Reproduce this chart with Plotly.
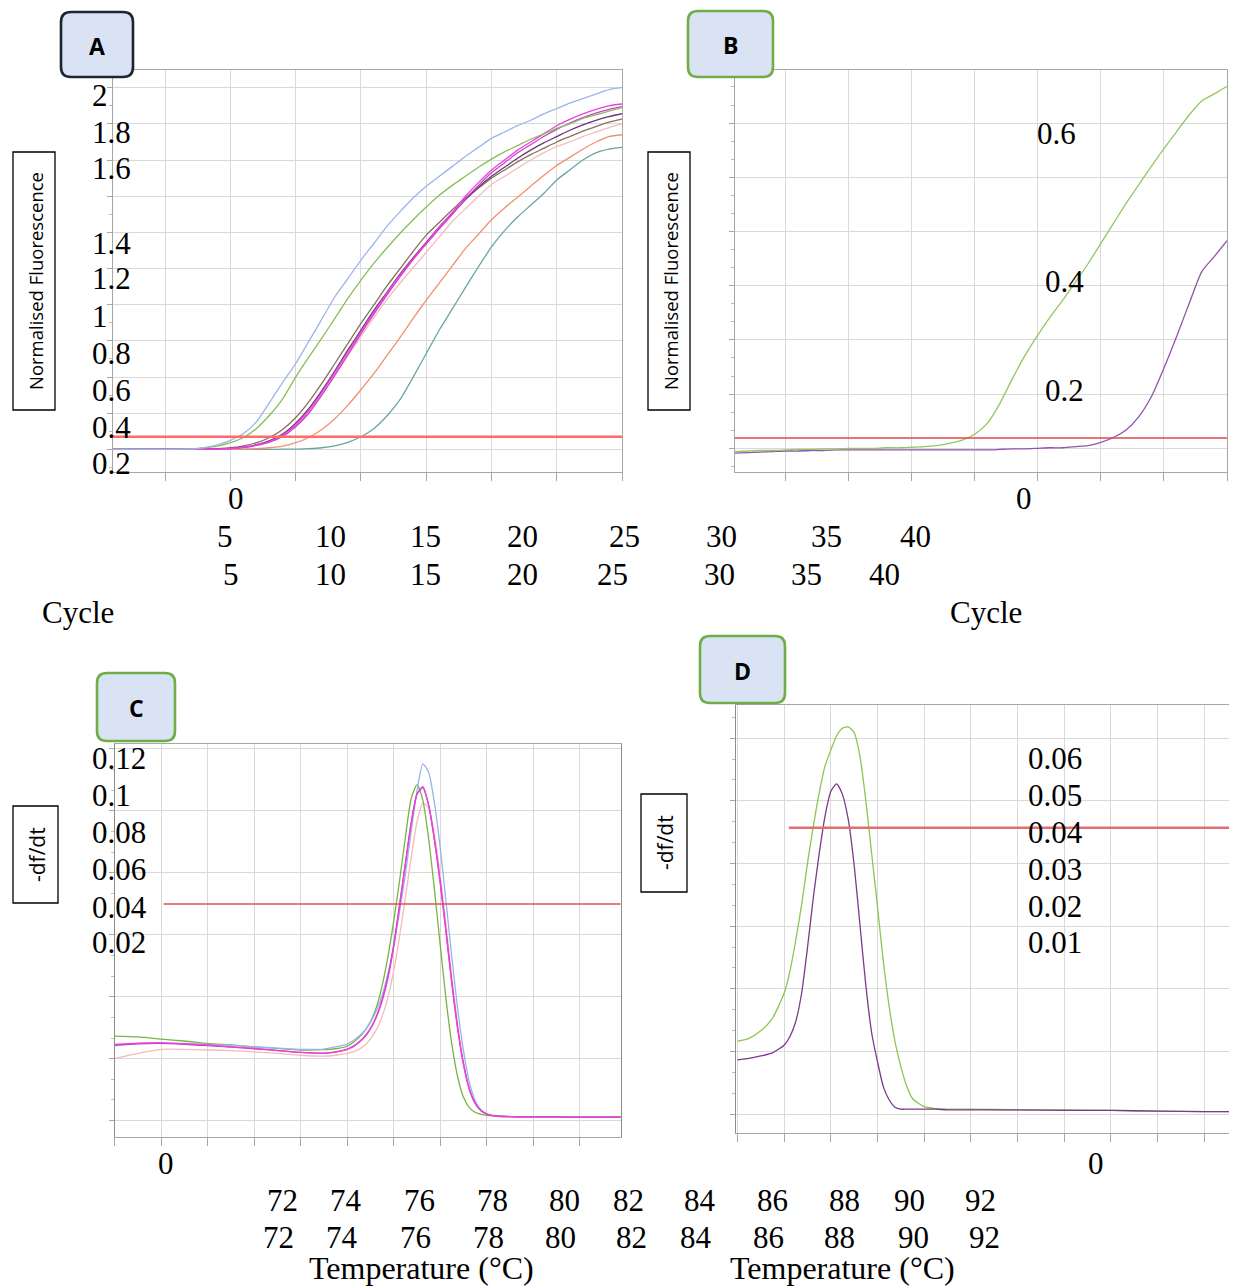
import plotly.graph_objects as go

# ---------------- DATA ----------------
cycles = list(range(1, 41))

# Panel A : amplification curves (normalised fluorescence per cycle)
a_blue = [0, 0, 0, 0, 0, 0, 0.003, 0.01, 0.025, 0.05, 0.088, 0.153, 0.26, 0.37, 0.475, 0.597, 0.72, 0.844, 0.945, 1.047,
          1.14, 1.235, 1.315, 1.39, 1.455, 1.51, 1.565, 1.62, 1.67, 1.72, 1.755, 1.79, 1.82, 1.855, 1.885, 1.915, 1.94, 1.965, 1.99, 2.0]
a_green = [0, 0, 0, 0, 0, 0, 0.002, 0.008, 0.018, 0.037, 0.066, 0.116, 0.19, 0.28, 0.40, 0.51, 0.615, 0.725, 0.835, 0.936,
           1.03, 1.115, 1.195, 1.27, 1.34, 1.405, 1.46, 1.51, 1.56, 1.605, 1.645, 1.68, 1.715, 1.745, 1.775, 1.80, 1.83, 1.85, 1.87, 1.89]
a_brown = [0, 0, 0, 0, 0, 0, 0, 0.002, 0.004, 0.009, 0.02, 0.037, 0.066, 0.11, 0.176, 0.263, 0.365, 0.475, 0.586, 0.697,
           0.80, 0.905, 1.0, 1.095, 1.185, 1.255, 1.325, 1.39, 1.445, 1.50, 1.545, 1.59, 1.63, 1.665, 1.70, 1.73, 1.76, 1.785, 1.81, 1.827]
a_purple = [0, 0, 0, 0, 0, 0, 0, 0, 0.003, 0.006, 0.012, 0.026, 0.048, 0.085, 0.145, 0.225, 0.325, 0.435, 0.55, 0.66,
            0.77, 0.87, 0.97, 1.06, 1.145, 1.23, 1.305, 1.38, 1.45, 1.51, 1.56, 1.61, 1.655, 1.695, 1.73, 1.765, 1.795, 1.82, 1.84, 1.856]
a_magenta = [0, 0, 0, 0, 0, 0, 0, 0, 0.002, 0.005, 0.012, 0.025, 0.045, 0.08, 0.135, 0.215, 0.315, 0.425, 0.54, 0.65,
             0.76, 0.865, 0.965, 1.055, 1.14, 1.23, 1.31, 1.40, 1.475, 1.545, 1.60, 1.655, 1.70, 1.745, 1.79, 1.825, 1.855, 1.88, 1.90, 1.91]
a_orchid = [0, 0, 0, 0, 0, 0, 0, 0, 0.002, 0.005, 0.01, 0.022, 0.04, 0.072, 0.125, 0.20, 0.30, 0.41, 0.525, 0.64,
            0.75, 0.855, 0.955, 1.05, 1.135, 1.22, 1.30, 1.385, 1.46, 1.53, 1.585, 1.64, 1.685, 1.73, 1.77, 1.805, 1.835, 1.86, 1.88, 1.895]
a_pink = [0, 0, 0, 0, 0, 0, 0, 0, 0.002, 0.005, 0.012, 0.024, 0.044, 0.078, 0.13, 0.21, 0.305, 0.41, 0.52, 0.625,
          0.73, 0.83, 0.92, 1.005, 1.09, 1.175, 1.26, 1.33, 1.40, 1.465, 1.51, 1.555, 1.60, 1.64, 1.675, 1.70, 1.73, 1.755, 1.78, 1.80]
a_orange = [0, 0, 0, 0, 0, 0, 0, 0, 0, 0, 0.002, 0.004, 0.009, 0.018, 0.037, 0.066, 0.11, 0.17, 0.245, 0.33,
            0.42, 0.52, 0.62, 0.725, 0.825, 0.92, 1.015, 1.11, 1.19, 1.27, 1.335, 1.395, 1.455, 1.515, 1.57, 1.615, 1.66, 1.70, 1.73, 1.74]
a_teal = [0, 0, 0, 0, 0, 0, 0, 0, 0, 0, 0, 0, 0, 0.001, 0.002, 0.004, 0.009, 0.02, 0.039, 0.07,
          0.116, 0.186, 0.276, 0.40, 0.53, 0.66, 0.777, 0.895, 1.01, 1.12, 1.21, 1.285, 1.35, 1.415, 1.49, 1.545, 1.60, 1.64, 1.66, 1.67]
a_threshold = 0.07

# Panel B : amplification curves
b_green = [-0.006, -0.005, -0.004, -0.004, -0.003, -0.002, -0.002, -0.001, -0.001, 0.0, 0.0, 0.0, 0.001, 0.001, 0.002, 0.003,
           0.005, 0.009, 0.015, 0.026, 0.046, 0.083, 0.129, 0.172, 0.209, 0.243, 0.274, 0.307, 0.341, 0.378,
           0.415, 0.452, 0.486, 0.52, 0.553, 0.584, 0.615, 0.641, 0.654, 0.668]
b_purple = [-0.009, -0.008, -0.007, -0.006, -0.005, -0.005, -0.004, -0.004, -0.003, -0.003, -0.003, -0.003, -0.003, -0.003,
            -0.003, -0.003, -0.003, -0.003, -0.003, -0.003, -0.003, -0.002, -0.001, -0.001, 0.0, 0.001, 0.001, 0.003, 0.005,
            0.011, 0.02, 0.034, 0.058, 0.095, 0.148, 0.206, 0.267, 0.326, 0.354, 0.383]
b_threshold = 0.019

# Panel C : melt curves (-df/dt vs temperature)
c_temps = [70, 71, 72, 73, 74, 75, 76, 77, 78, 79, 79.5,
           80, 80.25, 80.5, 80.75, 81, 81.25, 81.5, 81.75, 82, 82.25, 82.5, 82.75, 83, 83.25, 83.5, 83.75,
           84, 84.25, 84.5, 84.75, 85, 85.25, 85.5, 85.75, 86, 86.25, 86.5,
           87, 88, 89, 90, 91, 92]
c_blue = [0.0241, 0.0249, 0.0251, 0.0249, 0.0246, 0.0243, 0.0238, 0.0234, 0.0230, 0.0231, 0.0238,
          0.0247, 0.0258, 0.0272, 0.029, 0.0318, 0.0355, 0.0405, 0.0475, 0.0565, 0.0675, 0.0795, 0.0935, 0.1065, 0.1152, 0.1125, 0.1025,
          0.088, 0.0705, 0.0525, 0.036, 0.0225, 0.0125, 0.0065, 0.0035, 0.0022, 0.0017, 0.0015,
          0.0013, 0.0012, 0.0012, 0.0011, 0.0011, 0.0011]
c_green = [0.0273, 0.027, 0.0263, 0.0257, 0.0249, 0.0244, 0.0238, 0.0233, 0.0228, 0.0229, 0.0232,
           0.024, 0.0252, 0.0268, 0.029, 0.032, 0.0365, 0.0435, 0.053, 0.0645, 0.0775, 0.0915, 0.104, 0.1085, 0.1035, 0.091, 0.0745,
           0.0565, 0.039, 0.0245, 0.014, 0.0075, 0.0042, 0.0027, 0.002, 0.0017, 0.0015, 0.0014,
           0.0013, 0.0012, 0.0012, 0.0011, 0.0011, 0.0011]
c_magenta = [0.0246, 0.025, 0.0251, 0.0248, 0.0244, 0.0238, 0.0233, 0.0227, 0.022, 0.0217, 0.0221,
             0.023, 0.0238, 0.0252, 0.027, 0.0296, 0.0333, 0.0386, 0.046, 0.0562, 0.0692, 0.0828, 0.0958, 0.1053, 0.1078, 0.102, 0.0905,
             0.0765, 0.0605, 0.044, 0.0295, 0.018, 0.01, 0.0055, 0.0032, 0.0021, 0.0016, 0.0014,
             0.0013, 0.0012, 0.0012, 0.0011, 0.0011, 0.0011]
c_purple = [0.0244, 0.0248, 0.0249, 0.0246, 0.0242, 0.0237, 0.0232, 0.0226, 0.022, 0.0218, 0.0222,
            0.0231, 0.024, 0.0254, 0.0272, 0.0298, 0.0336, 0.039, 0.0465, 0.0568, 0.0698, 0.0832, 0.0962, 0.1055, 0.1075, 0.1018, 0.0908,
            0.077, 0.061, 0.0445, 0.0298, 0.0182, 0.0102, 0.0056, 0.0032, 0.0021, 0.0016, 0.0014,
            0.0013, 0.0012, 0.0012, 0.0011, 0.0011, 0.0011]
c_pink = [0.0201, 0.0217, 0.023, 0.023, 0.0228, 0.0226, 0.0222, 0.0217, 0.0211, 0.0208, 0.0211,
          0.0217, 0.0222, 0.023, 0.0243, 0.0264, 0.0293, 0.0336, 0.0398, 0.0485, 0.0595, 0.072, 0.085, 0.0965, 0.1025, 0.101, 0.092,
          0.079, 0.063, 0.046, 0.031, 0.019, 0.0105, 0.0058, 0.0033, 0.0022, 0.0016, 0.0014,
          0.0013, 0.0012, 0.0012, 0.0011, 0.0011, 0.0011]
c_threshold = 0.0699
c_threshold_start = 72.1

# Panel D : melt curves
d_temps = [70, 70.5, 71, 71.5, 72, 72.25, 72.5, 72.75, 73, 73.25, 73.5, 73.75, 74, 74.25, 74.5, 74.75,
           75, 75.25, 75.5, 75.75, 76, 76.25, 76.5, 76.75, 77, 77.25, 77.5, 78, 78.5, 79, 80,
           82, 84, 86, 88, 90, 92]
d_green = [0.01165, 0.0121, 0.0133, 0.0153, 0.0193, 0.0228, 0.0278, 0.0334, 0.040, 0.0459, 0.0512, 0.0555, 0.0581, 0.0604, 0.0616, 0.0618,
           0.0609, 0.0571, 0.0501, 0.0416, 0.0331, 0.0244, 0.0172, 0.0116, 0.0076, 0.0045, 0.0025, 0.0012, 0.0009, 0.0008, 0.0008,
           0.0007, 0.0007, 0.0006, 0.0005, 0.0004, 0.0004]
d_purple = [0.00866, 0.0089, 0.0093, 0.0098, 0.011, 0.0124, 0.0148, 0.0193, 0.0265, 0.0345, 0.0415, 0.0475, 0.0515, 0.0527, 0.051, 0.047,
            0.0398, 0.0302, 0.0206, 0.013, 0.0084, 0.0044, 0.0023, 0.0011, 0.0008, 0.0008, 0.0008, 0.0008, 0.0008, 0.0007, 0.0007,
            0.0007, 0.0006, 0.0006, 0.0005, 0.0004, 0.0004]
d_threshold = 0.0457
d_threshold_start = 72.2

# Free-floating tick label texts (as printed in the figure)
a_ylabels = ["2", "1.8", "1.6", "1.4", "1.2", "1", "0.8", "0.6", "0.4", "0.2"]
b_ylabels = ["0.6", "0.4", "0.2"]
c_ylabels = ["0.12", "0.1", "0.08", "0.06", "0.04", "0.02"]
d_ylabels = ["0.06", "0.05", "0.04", "0.03", "0.02", "0.01"]
cycle_labels = ["5", "10", "15", "20", "25", "30", "35", "40"]
temp_labels = ["72", "74", "76", "78", "80", "82", "84", "86", "88", "90", "92"]
zero_label = "0"
x_title_ab = "Cycle"
x_title_cd = "Temperature (°C)"
y_title_ab = "Normalised Fluorescence"
y_title_cd = "-df/dt"
panel_letters = ["A", "B", "C", "D"]

# ---------------- LAYOUT (pixel positions on the page) ----------------
PAGE_W, PAGE_H = 1237, 1288
OFF = 8                      # the page body margin that surrounds the figure
W, H = PAGE_W - OFF, PAGE_H - OFF


def px(x):
    return (x - OFF) / W


def py(y):
    return 1 - (y - OFF) / H


a_ylab_pos = [95, 132, 169, 243, 279, 316, 353, 390, 427, 463]
b_ylab_pos = [(1035, 133), (1043, 281), (1043, 390)]
c_ylab_pos = [758, 795, 832, 869, 907, 942]
d_ylab_pos = [758, 795, 832, 869, 906, 942]
cyc_row2_x = [224.5, 330, 425, 522, 624.5, 721, 826, 915]
cyc_row3_x = [231, 330, 425, 522, 612, 719, 806, 884]
tmp_row1_x = [282, 346, 419, 492, 564, 628, 700, 772, 844, 909, 980]
tmp_row2_x = [278, 342, 415, 488, 560, 631, 696, 768, 840, 913, 984]

GRID = "#d9d9d9"
AXC = "#a6a6a6"
SERIF = "Liberation Serif"
SANS = "Open Sans"

fig = go.Figure()


def add_line(x, y, color, xa, ya, width=1.3):
    fig.add_trace(go.Scatter(x=x, y=y, mode="lines", line=dict(color=color, width=width, shape="spline", smoothing=0.6),
                             xaxis=xa, yaxis=ya, hoverinfo="skip", showlegend=False))


def add_thr(x0, x1, yv, color, xa, ya, width):
    fig.add_trace(go.Scatter(x=[x0, x1], y=[yv, yv], mode="lines", line=dict(color=color, width=width),
                             xaxis=xa, yaxis=ya, hoverinfo="skip", showlegend=False))


# Panel A
for ys, col in [(a_teal, "#6aa5a5"), (a_orange, "#f0916c"), (a_pink, "#f4bcbc"), (a_brown, "#857258"),
                (a_purple, "#6a3579"), (a_orchid, "#c545c8"), (a_magenta, "#f03ee6"), (a_green, "#86bf58"),
                (a_blue, "#9cb4ea")]:
    add_line(cycles, ys, col, "x", "y")
add_thr(cycles[0], cycles[-1], a_threshold, "#ff6b6b", "x", "y", 2.6)

# Panel B
add_line(cycles, b_purple, "#9452a8", "x2", "y2")
add_line(cycles, b_green, "#92c862", "x2", "y2")
add_thr(cycles[0], cycles[-1], b_threshold, "#e0474c", "x2", "y2", 1.5)

# Panel C
for ys, col in [(c_pink, "#f6baba"), (c_green, "#78b443"), (c_blue, "#9ab2ea"), (c_purple, "#b040c0"),
                (c_magenta, "#f040d8")]:
    add_line(c_temps, ys, col, "x3", "y3")
add_thr(c_threshold_start, c_temps[-1], c_threshold, "#d9534f", "x3", "y3", 1.5)

# Panel D
add_line(d_temps, d_green, "#8cc552", "x4", "y4")
add_line(d_temps, d_purple, "#7d3a8c", "x4", "y4")
add_thr(d_threshold_start, d_temps[-1], d_threshold, "#e07070", "x4", "y4", 2.4)


def xax(dom, rng, tick0, dtick, anchor):
    return dict(domain=[max(0, px(dom[0])), min(1, px(dom[1]))], range=rng, tick0=tick0, dtick=dtick, anchor=anchor,
                showgrid=True, gridcolor=GRID, gridwidth=1, zeroline=False, showticklabels=False,
                ticks="outside", ticklen=8, tickcolor=AXC, showline=True, linecolor=AXC, linewidth=1.2, mirror=True)


def yax(dom, rng, dtick, minor, anchor, lc=AXC):
    return dict(domain=[py(dom[1]), py(dom[0])], range=rng, tick0=0, dtick=dtick, anchor=anchor,
                showgrid=True, gridcolor=GRID, gridwidth=1.2, zeroline=False, showticklabels=False,
                ticks="outside", ticklen=5, tickcolor=AXC, showline=True, linecolor=lc, linewidth=1.2, mirror=True,
                minor=dict(dtick=minor, ticks="outside", ticklen=3, tickcolor="#bdbdbd", showgrid=False))


layout = dict(
    width=W, height=H, margin=dict(l=0, r=0, t=0, b=0), paper_bgcolor="white", plot_bgcolor="white",
    showlegend=False, template="none",
    xaxis=xax((113, 622), [1, 40], 0, 5, "y"),
    yaxis=yax((70, 472), [-0.125, 2.098], 0.2, 0.1, "x"),
    xaxis2=xax((735, 1227), [1, 40], 0, 5, "y2"),
    yaxis2=yax((70, 472), [-0.0437, 0.698], 0.1, 0.1 / 3, "x2"),
    xaxis3=xax((114.7, 620.5), [70, 91.75], 70, 2, "y3"),
    yaxis3=yax((744, 1137), [-0.0053, 0.1216], 0.02, 0.02 / 3, "x3", lc="#8c8c8c"),
    xaxis4=xax((736, 1237), [69.94, 91.4], 70, 2, "y4"),
    yaxis4=yax((705, 1133), [-0.003, 0.0653], 0.01, 0.01 / 3, "x4", lc="#8c8c8c"),
)
fig.update_layout(**layout)

shapes = []
annotations = []


def rrect(x0, y0, x1, y1, r):
    X0, X1 = px(x0), px(x1)
    Y0, Y1 = py(y0), py(y1)
    rx, ry = r / W, r / H
    return (f"M {X0 + rx},{Y0} L {X1 - rx},{Y0} Q {X1},{Y0} {X1},{Y0 - ry} "
            f"L {X1},{Y1 + ry} Q {X1},{Y1} {X1 - rx},{Y1} L {X0 + rx},{Y1} Q {X0},{Y1} {X0},{Y1 + ry} "
            f"L {X0},{Y0 - ry} Q {X0},{Y0} {X0 + rx},{Y0} Z")


letter_boxes = [((61, 12, 133, 77), "#1c2530"), ((688, 11, 773, 77), "#70ad47"),
                ((97, 673, 175, 741), "#70ad47"), ((700, 636, 785, 703), "#70ad47")]
for letter, (box, border) in zip(panel_letters, letter_boxes):
    shapes.append(dict(type="path", xref="paper", yref="paper", path=rrect(*box, 10),
                       fillcolor="#dae3f3", line=dict(color=border, width=2.6), layer="above"))
    annotations.append(dict(x=px((box[0] + box[2]) / 2), y=py((box[1] + box[3]) / 2 + 1), xref="paper", yref="paper",
                            text=f"<b>{letter}</b>", showarrow=False, xanchor="center", yanchor="middle",
                            font=dict(family=SANS, size=23, color="black")))

title_boxes = [((13, 152, 55, 410), y_title_ab, 18.5), ((648, 152, 690, 410), y_title_ab, 18.5),
               ((13, 806, 58, 903), y_title_cd, 21), ((641, 794, 687, 892), y_title_cd, 21)]
for (x0, y0, x1, y1), txt, fs in title_boxes:
    shapes.append(dict(type="rect", xref="paper", yref="paper", x0=px(x0), x1=px(x1), y0=py(y1), y1=py(y0),
                       line=dict(color="black", width=1.3), fillcolor="white", layer="above"))
    annotations.append(dict(x=px((x0 + x1) / 2 + 1), y=py((y0 + y1) / 2), xref="paper", yref="paper", text=txt,
                            textangle=-90, showarrow=False, xanchor="center", yanchor="middle",
                            font=dict(family=SANS, size=fs, color="black")))


def label(txt, x, y, anchor="center", size=31, yanchor="middle"):
    annotations.append(dict(x=px(x), y=py(y), xref="paper", yref="paper", text=txt, showarrow=False,
                            xanchor=anchor, yanchor=yanchor, font=dict(family=SERIF, size=size, color="black")))


for t, yy in zip(a_ylabels, a_ylab_pos):
    label(t, 90, yy, "left")
for t, (xx, yy) in zip(b_ylabels, b_ylab_pos):
    label(t, xx, yy, "left")
for t, yy in zip(c_ylabels, c_ylab_pos):
    label(t, 90, yy, "left")
for t, yy in zip(d_ylabels, d_ylab_pos):
    label(t, 1026, yy, "left")

label(zero_label, 236, 498)
label(zero_label, 1024, 498)
for t, xx in zip(cycle_labels, cyc_row2_x):
    label(t, xx, 536)
for t, xx in zip(cycle_labels, cyc_row3_x):
    label(t, xx, 574)
label(x_title_ab, 78, 612)
label(x_title_ab, 986, 612)

label(zero_label, 166, 1163)
label(zero_label, 1096, 1163)
for t, xx in zip(temp_labels, tmp_row1_x):
    label(t, xx, 1200)
for t, xx in zip(temp_labels, tmp_row2_x):
    label(t, xx, 1237)
label(x_title_cd, 421, PAGE_H, size=32, yanchor="bottom")
label(x_title_cd, 842, PAGE_H, size=32, yanchor="bottom")

fig.update_layout(shapes=shapes, annotations=annotations)
fig.write_html("out.html")
